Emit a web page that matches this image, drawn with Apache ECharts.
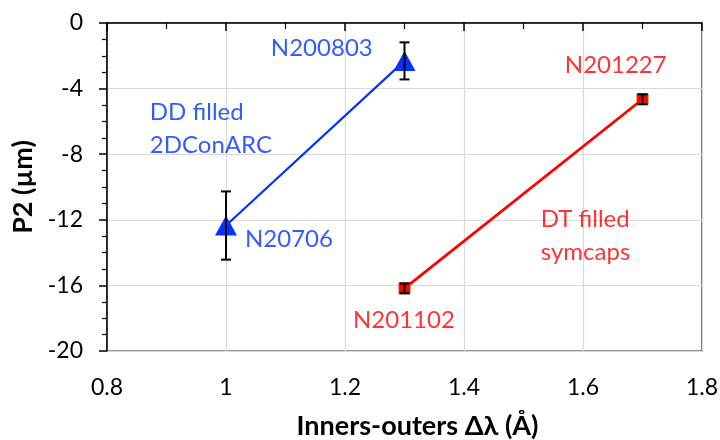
<!DOCTYPE html>
<html><head><meta charset="utf-8">
<script src="https://cdn.jsdelivr.net/npm/echarts@6/dist/echarts.min.js"></script>
<style>html,body{margin:0;padding:0;background:#fff}#c{width:720px;height:440px}</style>
</head><body><div id="c"></div>
<script>
// Data
var ddX = [1.0, 1.3];
var ddY = [-12.35, -2.31];
var ddErr = [2.08, 1.13];
var dtX = [1.3, 1.7];
var dtY = [-16.18, -4.65];
var dtErr = [0.3, 0.3];
var xTicks = [0.8, 1.0, 1.2, 1.4, 1.6, 1.8];
var yTicks = [-20, -16, -12, -8, -4, 0];
// annotations: [x, y, text, colour, align]
var annotations = [
  [1.161, -1.52, 'N200803', '#0033FF', 'center'],
  [0.872, -6.45, 'DD filled\n2DConARC', '#0033FF', 'left'],
  [1.032, -13.2, 'N20706', '#0033FF', 'left'],
  [1.655, -2.56, 'N201227', '#FF0000', 'center'],
  [1.529, -12.95, 'DT filled\nsymcaps', '#FF0000', 'left'],
  [1.299, -18.1, 'N201102', '#FF0000', 'center']
];
var FONT = 'Lato';
function errData(xs, ys, es){ return xs.map(function(x,i){ return [x, ys[i]-es[i], ys[i]+es[i]]; }); }
function errSeries(xs, ys, es){
  return {
    type:'custom', z:5,
    data: errData(xs, ys, es),
    renderItem: function(params, api){
      var lo = api.coord([api.value(0), api.value(1)]);
      var hi = api.coord([api.value(0), api.value(2)]);
      var w = 5;
      var st = {stroke:'#000', lineWidth:2};
      return {type:'group', children:[
        {type:'line', shape:{x1:lo[0],y1:lo[1],x2:hi[0],y2:hi[1]}, style:st},
        {type:'line', shape:{x1:lo[0]-w,y1:lo[1],x2:lo[0]+w,y2:lo[1]}, style:st},
        {type:'line', shape:{x1:hi[0]-w,y1:hi[1],x2:hi[0]+w,y2:hi[1]}, style:st}
      ]};
    }
  };
}
var chart = echarts.init(document.getElementById('c'));
chart.setOption({
  animation:false,
  textStyle:{fontFamily:FONT},
  grid:{left:107, top:23, right:18, bottom:89, outerBoundsMode:'none', containLabel:false,
        show:true, borderColor:'#222', borderWidth:1.2},
  xAxis:{
    type:'value', min:xTicks[0], max:xTicks[xTicks.length-1], interval:0.2,
    name:'Inners-outers \u0394\u03bb (\u00c5)', nameLocation:'middle', nameGap:62,
    nameTextStyle:{fontSize:27, fontWeight:'bold', color:'#000', fontFamily:FONT, padding:[0,0,0,26]},
    axisLine:{lineStyle:{color:'#000', width:1.5}},
    axisTick:{show:true, inside:false, length:8, lineStyle:{color:'#000', width:1.5}},
    minorTick:{show:true, splitNumber:2, length:6, lineStyle:{color:'#000', width:1.2}},
    axisLabel:{fontSize:23, color:'#000', margin:25, fontFamily:FONT},
    splitLine:{show:true, lineStyle:{color:'#d9d9d9', width:1.2}}
  },
  yAxis:{
    type:'value', min:yTicks[0], max:yTicks[yTicks.length-1], interval:4,
    name:'P2 (\u00b5m)', nameLocation:'middle', nameGap:70, nameRotate:90,
    nameTextStyle:{fontSize:27, fontWeight:'bold', color:'#000', fontFamily:FONT},
    axisLine:{lineStyle:{color:'#000', width:1.5}},
    axisTick:{show:true, inside:false, length:8, lineStyle:{color:'#000', width:1.5}},
    minorTick:{show:true, splitNumber:4, length:5, lineStyle:{color:'#000', width:1.2}},
    axisLabel:{fontSize:23, color:'#000', margin:24, fontFamily:FONT},
    splitLine:{show:true, lineStyle:{color:'#d9d9d9', width:1.2}}
  },
  series:[
    {type:'line', data: ddX.map(function(x,i){return [x, ddY[i]];}), z:3,
     lineStyle:{color:'#0033FF', width:2.2}, symbol:'triangle', symbolSize:[22,20],
     itemStyle:{color:'#0033FF'}},
    {type:'line', data: dtX.map(function(x,i){return [x, dtY[i]];}), z:3,
     lineStyle:{color:'#FF0000', width:2.8}, symbol:'rect', symbolSize:11,
     itemStyle:{color:'#FF0000', borderColor:'#C05000', borderWidth:1}},
    errSeries(ddX, ddY, ddErr),
    errSeries(dtX, dtY, dtErr),
    {type:'scatter', symbolSize:0, silent:true, z:6,
     data: annotations.map(function(a){
       return {value:[a[0], a[1]], label:{show:true, position:'inside', formatter:a[2], color:a[3], align:a[4],
         fontSize:24, lineHeight:33, fontFamily:FONT}};
     })}
  ]
});
</script></body></html>
